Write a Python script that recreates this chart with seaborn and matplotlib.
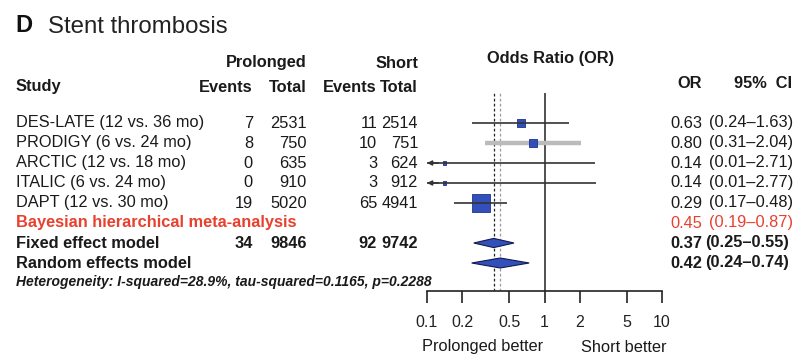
import numpy as np
import pandas as pd
import matplotlib
matplotlib.use("Agg")
import matplotlib.pyplot as plt
import seaborn as sns

# ---------------- data ----------------
studies = ["DES-LATE (12 vs. 36 mo)", "PRODIGY (6 vs. 24 mo)", "ARCTIC (12 vs. 18 mo)",
           "ITALIC (6 vs. 24 mo)", "DAPT (12 vs. 30 mo)"]
prol_events = [7, 8, 0, 0, 19]
prol_total = [2531, 750, 635, 910, 5020]
short_events = [11, 10, 3, 3, 65]
short_total = [2514, 751, 624, 912, 4941]
or_est = [0.63, 0.80, 0.14, 0.14, 0.29]
ci_low = [0.24, 0.31, 0.01, 0.01, 0.17]
ci_high = [1.63, 2.04, 2.71, 2.77, 0.48]
weights = [12, 12, 2, 2, 72]
ci_gray = [False, True, False, False, False]

bayes_label = "Bayesian hierarchical meta-analysis"
bayes_or = [0.45, 0.19, 0.87]
fixed_label = "Fixed effect model"
fixed_or = [0.37, 0.25, 0.55]
fixed_counts = [34, 9846, 92, 9742]
random_label = "Random effects model"
random_or = [0.42, 0.24, 0.74]
het_text = "Heterogeneity: I-squared=28.9%, tau-squared=0.1165, p=0.2288"

x_ticks = [0.1, 0.2, 0.5, 1, 2, 5, 10]
x_ticklabels = ["0.1", "0.2", "0.5", "1", "2", "5", "10"]

# ---------------- figure ----------------
W, H = 798, 354
sns.set_theme(style="white")
plt.rcParams["font.family"] = ["Liberation Sans", "DejaVu Sans"]
fig = plt.figure(figsize=(W / 100, H / 100), dpi=100)

ROW0, ROWH = 123, 20
ax = fig.add_axes([427 / W, 1 - 291 / H, 235 / W, 198 / H])
ax.set_xscale("log")
ax.set_xlim(0.1, 10)
ax.set_ylim((291 - ROW0) / ROWH, (93 - ROW0) / ROWH)
ax.patch.set_alpha(0)
for s in ["left", "top", "right"]:
    ax.spines[s].set_visible(False)
ax.spines["bottom"].set_linewidth(1.2)
ax.spines["bottom"].set_color("#222222")
ax.set_yticks([])
ax.set_xticks(x_ticks)
ax.set_xticklabels(x_ticklabels)
ax.minorticks_off()
ax.tick_params(axis="x", direction="out", length=8.6, width=1.2, pad=9,
               labelsize=11.5, colors="#222222", bottom=True)

BLUE = "#3350BA"
EDGE = "#1C3290"

# reference lines
ax.axvline(1, color="#333333", lw=1.2, zorder=1)
ax.axvline(fixed_or[0], color="#222222", lw=0.9, ls=(0, (2.2, 1.8)), zorder=1)
ax.axvline(random_or[0], color="#9a9a9a", lw=0.9, ls=(0, (2.2, 1.8)), zorder=1)

# study CI lines
df = pd.DataFrame({"study": studies, "OR": or_est, "lo": ci_low, "hi": ci_high,
                   "w": weights, "row": np.arange(len(studies))})
for _, r in df.iterrows():
    gray = ci_gray[int(r["row"])]
    lo = max(r["lo"], 0.1)
    ax.hlines(r["row"], lo, r["hi"], color="#bbbbbb" if gray else "#333333",
              lw=3.2 if gray else 1.2, zorder=2 if gray else 4)
    if r["lo"] < 0.1:
        ax.annotate("", xy=(0.1, r["row"]), xytext=(0.125, r["row"]),
                    arrowprops=dict(arrowstyle="-|>", color="#333333", lw=1.1,
                                    mutation_scale=7, shrinkA=0, shrinkB=0),
                    annotation_clip=False, zorder=4)

K = 2.4
sns.scatterplot(data=df, x="OR", y="row", size="w", sizes=(2 * K, 72 * K),
                marker="s", color=BLUE, edgecolor=EDGE, linewidth=0.6,
                legend=False, ax=ax, zorder=3)

# summary diamonds
for row, (est, lo, hi), hh in [(6, fixed_or, 0.23), (7, random_or, 0.25)]:
    ax.fill([lo, est, hi, est], [row, row - hh, row, row + hh],
            facecolor=BLUE, edgecolor="#111a50", lw=0.8, zorder=3)

ax.set_xlabel("")
ax.set_ylabel("")


# ---------------- text ----------------
FS = 11.8


def T(x, y, s, **kw):
    kw.setdefault("fontsize", FS)
    kw.setdefault("va", "center")
    kw.setdefault("color", "#1a1a1a")
    fig.text(x / W, 1 - y / H, s, **kw)


T(15, 26, "D", fontsize=17, fontweight="bold", color="#111111")
T(48, 27, "Stent thrombosis", fontsize=17.3, color="#222222")

T(16, 87, "Study", fontweight="bold")
T(307, 63, "Prolonged", fontweight="bold", ha="right")
T(418, 63, "Short", fontweight="bold", ha="right")
T(253, 87, "Events", fontweight="bold", ha="right")
T(307, 87, "Total", fontweight="bold", ha="right")
T(377, 87, "Events", fontweight="bold", ha="right")
T(418, 87, "Total", fontweight="bold", ha="right")
T(551, 59, "Odds Ratio (OR)", fontweight="bold", ha="center")
T(702, 83, "OR", fontweight="bold", ha="right")
T(792, 83, "95%  CI", fontweight="bold", ha="right")

for i in range(len(studies)):
    y = ROW0 + ROWH * i
    T(16, y, studies[i])
    T(253, y, str(prol_events[i]), ha="right")
    T(307, y, str(prol_total[i]), ha="right")
    T(377, y, str(short_events[i]), ha="right")
    T(418, y, str(short_total[i]), ha="right")
    T(702, y, f"{or_est[i]:.2f}", ha="right")
    T(709, y, f"({ci_low[i]:.2f}\u2013{ci_high[i]:.2f})")

RED = "#e8412f"
y = ROW0 + ROWH * 5
T(16, y, bayes_label, color=RED, fontweight="bold")
T(702, y, f"{bayes_or[0]:.2f}", ha="right", color=RED)
T(709, y, f"({bayes_or[1]:.2f}\u2013{bayes_or[2]:.2f})", color=RED)

y = ROW0 + ROWH * 6
T(16, y, fixed_label, fontweight="bold")
T(253, y, str(fixed_counts[0]), ha="right", fontweight="bold")
T(307, y, str(fixed_counts[1]), ha="right", fontweight="bold")
T(377, y, str(fixed_counts[2]), ha="right", fontweight="bold")
T(418, y, str(fixed_counts[3]), ha="right", fontweight="bold")
T(702, y, f"{fixed_or[0]:.2f}", ha="right", fontweight="bold")
T(705, y, f"({fixed_or[1]:.2f}\u2013{fixed_or[2]:.2f})", fontweight="bold")

y = ROW0 + ROWH * 7
T(16, y, random_label, fontweight="bold")
T(702, y, f"{random_or[0]:.2f}", ha="right", fontweight="bold")
T(705, y, f"({random_or[1]:.2f}\u2013{random_or[2]:.2f})", fontweight="bold")

T(16, 282, het_text, fontsize=10, fontweight="bold", style="italic")

T(483, 347, "Prolonged better", ha="center")
T(624, 347, "Short better", ha="center")

fig.savefig("out.png", dpi=100)
